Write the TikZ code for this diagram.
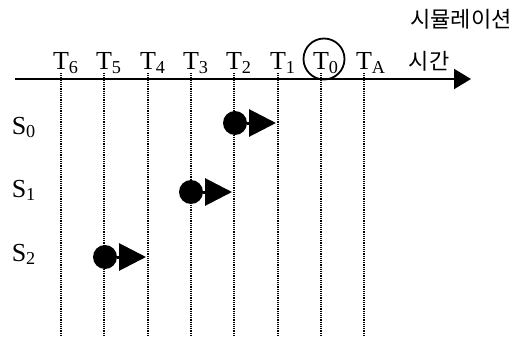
\documentclass[tikz,border=0pt]{standalone}
\usepackage{fontspec}
\setmainfont{Liberation Serif}
\newfontfamily\kor{Noto Sans CJK KR}
\usetikzlibrary{arrows.meta}
\tikzset{
  guide/.style={line width=1.2pt,dash pattern=on 1.1pt off 1.1pt},
  tlabel/.style={inner sep=0pt,anchor=base,font=\fontsize{26}{28}\selectfont},
  klabel/.style={font=\kor\fontsize{22}{24}\selectfont},
  dot/.style={circle,fill=black,inner sep=0pt,minimum size=24pt},
  jump/.style={line width=3pt,-{Triangle[length=27pt,width=27pt]},shorten >=2pt},
}
\begin{document}
\begin{tikzpicture}[x=1pt,y=-1pt]
      \useasboundingbox (0,0) rectangle (522,345);
      \coordinate (ax start) at (15,79);
      \coordinate (ax end) at (471,79);
      \draw[line width=2pt,-{Triangle[length=17pt,width=20pt]}] (ax start) -- (ax end);
      \foreach \n/\x/\s in {t6/61/6,t5/104/5,t4/148/4,t3/191/3,t2/234/2,t1/278/1,t0/321/0,ta/364/A} {
        \coordinate (\n top) at (\x,73);
        \coordinate (\n bot) at (\x,335);
        \draw[guide] (\n top) -- (\n bot);
        \node[tlabel] (\n lbl) at (\x,70) {T\rlap{\textsubscript{\s}}};
      }
      \node[draw,circle,line width=1.8pt,inner sep=0pt,minimum size=41pt] (ring) at (324,59) {};
      \node[klabel] (time) at (429,61) {시간};
      \node[klabel] (sim) at (461,19) {시뮬레이션};
      \foreach \r/\ly/\x/\y/\nxt in {0/134/235/123/t1,1/197/191/192/t2,2/261/105/257/t4} {
        \node[tlabel] (s\r) at (19,\ly) {S\rlap{\textsubscript{\r}}};
        \node[dot] (s\r dot) at (\x,\y) {};
        \draw[jump] (s\r dot) -- (s\r dot -| \nxt top);
      }
    \end{tikzpicture}
\end{document}
